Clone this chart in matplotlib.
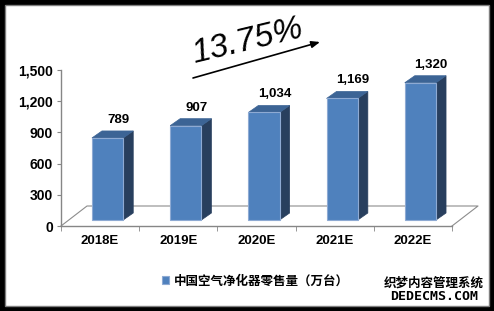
import matplotlib
matplotlib.use("Agg")
import matplotlib.pyplot as plt
from matplotlib.patches import Rectangle, Polygon
from matplotlib.transforms import ScaledTranslation, IdentityTransform
import numpy as np

plt.rcParams['font.family'] = ['Liberation Sans', 'Noto Sans CJK SC', 'DejaVu Sans']

categories = ['2018E', '2019E', '2020E', '2021E', '2022E']
values = [789, 907, 1034, 1169, 1320]
value_labels = ['789', '907', '1,034', '1,169', '1,320']
y_ticks = [0, 300, 600, 900, 1200, 1500]
y_tick_labels = ['0', '300', '600', '900', '1,200', '1,500']
series_name = '中国空气净化器零售量（万台）'
growth_label = '13.75%'

W, H = 494, 311
DPI = 100
fig = plt.figure(figsize=(W / DPI, H / DPI), dpi=DPI, facecolor='black')

# white inner panel with grey line
bg = Rectangle((5 / W, 5 / H), 484 / W, 301 / H, transform=fig.transFigure,
               facecolor='white', edgecolor='#7f7f7f', linewidth=1, zorder=-10)
fig.patches.append(bg)

def px(v):  # pixel -> points
    return v * 72.0 / DPI

left, right, top, bottom = 61, 452, 70, 226
ax = fig.add_axes([left / W, (H - bottom) / H, (right - left) / W, (bottom - top) / H])
ax.set_zorder(5)
ax.set_facecolor('none')
ax.set_xlim(-0.5, len(categories) - 0.5)
ax.set_ylim(0, 1500)

for s in ['top', 'right']:
    ax.spines[s].set_visible(False)
for s in ['left', 'bottom']:
    ax.spines[s].set_color('#868686')
    ax.spines[s].set_linewidth(1)

ax.set_yticks(y_ticks)
ax.set_yticklabels(y_tick_labels, fontsize=10, fontweight='bold')
ax.set_xticks(np.arange(len(categories)))
ax.set_xticklabels(categories, fontsize=9.5, fontweight='bold')
ax.set_xticks(np.arange(len(categories) + 1) - 0.5, minor=True)
ax.tick_params(axis='x', which='major', length=0, pad=px(9))
ax.tick_params(axis='x', which='minor', length=px(5), direction='out', color='#868686')
ax.tick_params(axis='y', length=px(4), direction='out', color='#868686', pad=px(4))

ident = IdentityTransform()

# 3D floor outline
floor_dx, floor_dy = 26, 20
p0 = ax.transData.transform((-0.5, 0))
p1 = ax.transData.transform((len(categories) - 0.5, 0))
floor_pts = [p0, p0 + [floor_dx, floor_dy], p1 + [floor_dx, floor_dy], p1]
ax.add_line(plt.Line2D([p[0] for p in floor_pts], [p[1] for p in floor_pts],
                       transform=ident, color='#8c8c8c', linewidth=0.8, zorder=1,
                       clip_on=False))

# bars
bar_w = 0.4
bar_dx, bar_dy = 7.5, 6
front_trans = ax.transData + ScaledTranslation(bar_dx / DPI, bar_dy / DPI, fig.dpi_scale_trans)
x = np.arange(len(categories))
bars = ax.bar(x, values, width=bar_w, color='#4F81BD', edgecolor='#8EAAD3', linewidth=0.8,
              transform=front_trans, zorder=3, label=series_name, clip_on=False)

side_dx, side_dy = 10, 7
for xi, v in zip(x, values):
    bl = ax.transData.transform((xi - bar_w / 2, 0)) + [bar_dx, bar_dy]
    br = ax.transData.transform((xi + bar_w / 2, 0)) + [bar_dx, bar_dy]
    tl = ax.transData.transform((xi - bar_w / 2, v)) + [bar_dx, bar_dy]
    tr = ax.transData.transform((xi + bar_w / 2, v)) + [bar_dx, bar_dy]
    d = np.array([side_dx, side_dy])
    ax.add_patch(Polygon([br, br + d, tr + d, tr], closed=True, transform=ident,
                         facecolor='#283F5E', edgecolor='#283F5E', linewidth=0.5,
                         zorder=2, clip_on=False))
    ax.add_patch(Polygon([tl, tr, tr + d, tl + d], closed=True, transform=ident,
                         facecolor='#3C6495', edgecolor='#3C6495', linewidth=0.5,
                         zorder=2, clip_on=False))

for xi, v, lab in zip(x, values, value_labels):
    ax.annotate(lab, (xi, v), xytext=(px(18), px(24)), textcoords='offset points',
                ha='center', va='center', fontsize=9.5, fontweight='bold',
                annotation_clip=False)

# growth annotation
fig.text(194 / W, (H - 63) / H, growth_label, fontsize=24, fontstyle='italic',
         rotation=13.5, rotation_mode='anchor', ha='left', va='baseline')
ax.annotate('', xy=(320 / W, (H - 42) / H), xytext=(193 / W, (H - 78) / H),
            xycoords='figure fraction', textcoords='figure fraction',
            annotation_clip=False,
            arrowprops=dict(arrowstyle='-|>,head_length=0.5,head_width=0.2',
                            color='black', lw=1.2, shrinkA=0, shrinkB=0))

# legend
fig.legend(handles=[bars], labels=[series_name], loc='center left',
           bbox_to_anchor=(156 / W, (H - 281) / H), frameon=False,
           handlelength=0.55, handleheight=0.55, handletextpad=0.35, borderpad=0,
           prop={'family': ['Noto Sans CJK SC'], 'weight': 'bold', 'size': 9})

# watermark
fig.text(434 / W, (H - 283) / H, '织梦内容管理系统', fontsize=9, fontweight='bold',
         family=['Noto Sans CJK SC'], ha='center', va='center')
fig.text(434 / W, (H - 297) / H, 'DEDECMS.COM', fontsize=9.5, fontweight='bold',
         family=['DejaVu Sans Mono'], ha='center', va='center')

fig.savefig('out.png', dpi=DPI, facecolor='black')
